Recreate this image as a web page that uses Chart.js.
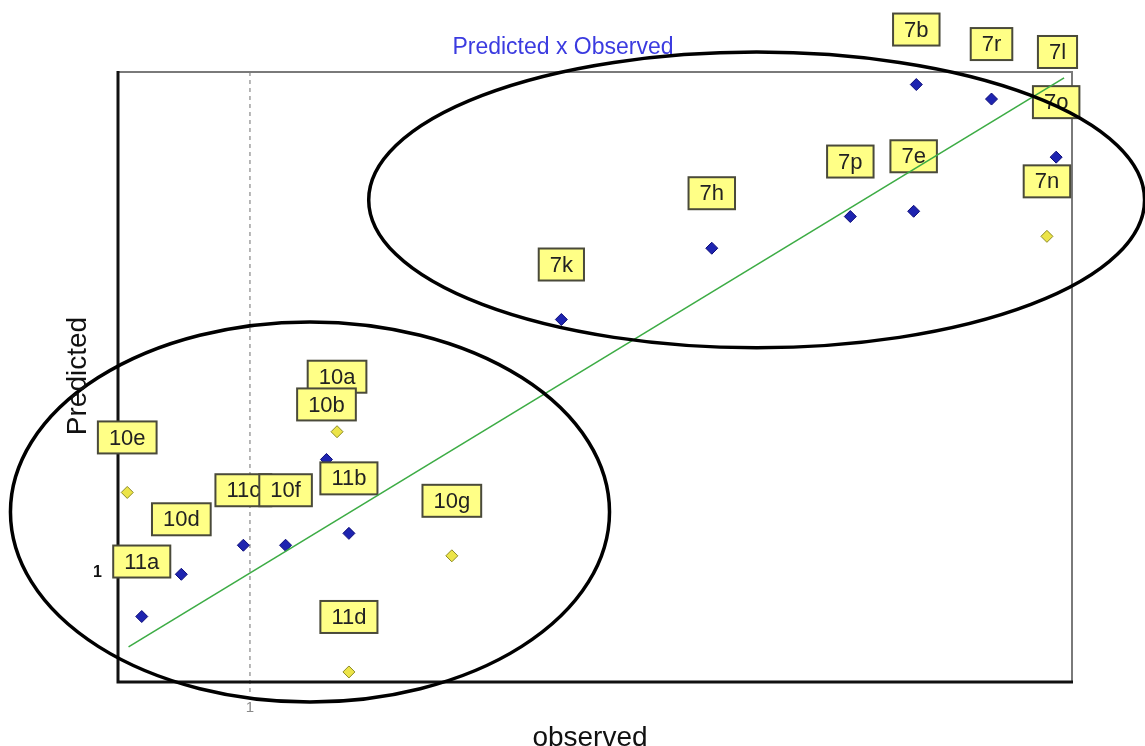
<!DOCTYPE html>
<html><head><meta charset="utf-8">
<script src="https://cdn.jsdelivr.net/npm/chart.js@4.4.1/dist/chart.umd.min.js"></script>
<style>html,body{margin:0;padding:0;background:#fff}#wrap{width:1145px;height:746px}</style>
</head><body><div id="wrap"><canvas id="c" width="1145" height="746"></canvas></div>
<script>
// ---- data ----
const blueNames = ['11a','10d','11c','10f','11b','10b','7k','7h','7p','7e','7b','7r','7l','7o'];
const blueObs   = [0.18,0.48,0.95,1.27,1.75,1.58,3.36,4.50,5.55,6.03,6.05,6.62,7.12,7.11];
const bluePred  = [0.67,0.99,1.21,1.21,1.30,1.86,2.92,3.46,3.70,3.74,4.70,4.59,4.53,4.15];
const yellowNames = ['10e','10a','10g','11d','7n'];
const yellowObs   = [0.07,1.66,2.53,1.75,7.04];
const yellowPred  = [1.61,2.07,1.13,0.25,3.55];
const fitObs  = [0.08,7.17];
const fitPred = [0.44,4.75];
const xTickValues = [1];
const yTickValues = [1];
const titleText = 'Predicted x Observed';
const xTitle = 'observed';
const yTitle = 'Predicted';

const FONT = "'Liberation Sans', Arial, sans-serif";
const toPts = (xs, ys) => xs.map((x, i) => ({x: x, y: ys[i]}));

const ellipses = [ {cx:1.455, cy:1.462, rx:2.27, ry:1.44}, {cx:4.84, cy:3.826, rx:2.94, ry:1.12} ];

function drawLabel(ctx, text, px, py){
  ctx.save();
  ctx.font = '22px ' + FONT;
  const w = ctx.measureText(text).width + 22, h = 32;
  const cx = px, cy = py - 55;
  ctx.fillStyle = '#ffff86';
  ctx.strokeStyle = '#4a4a3a';
  ctx.lineWidth = 2;
  ctx.fillRect(cx - w/2, cy - h/2, w, h);
  ctx.strokeRect(cx - w/2, cy - h/2, w, h);
  ctx.fillStyle = '#222';
  ctx.textAlign = 'center';
  ctx.textBaseline = 'middle';
  ctx.fillText(text, cx, cy + 1);
  ctx.restore();
}

const deco = {
  id: 'deco',
  beforeDatasetsDraw(chart){
    const {ctx, chartArea: a, scales: {x}} = chart;
    ctx.save();
    ctx.strokeStyle = '#a0a0a0'; ctx.lineWidth = 1.5; ctx.setLineDash([4,4]);
    xTickValues.forEach(v => { const px = x.getPixelForValue(v); ctx.beginPath(); ctx.moveTo(px, a.top); ctx.lineTo(px, a.bottom + 14); ctx.stroke(); });
    ctx.setLineDash([]);
    ctx.strokeStyle = '#7a7a7a'; ctx.lineWidth = 2;
    ctx.beginPath(); ctx.moveTo(a.left, a.top); ctx.lineTo(a.right, a.top); ctx.lineTo(a.right, a.bottom); ctx.stroke();
    ctx.strokeStyle = '#111'; ctx.lineWidth = 3;
    ctx.beginPath(); ctx.moveTo(a.left, a.top - 1); ctx.lineTo(a.left, a.bottom); ctx.lineTo(a.right + 1, a.bottom); ctx.stroke();
    ctx.restore();
  },
  afterDatasetDraw(chart, args){
    if (args.index !== 1) return;
    const ctx = chart.ctx;
    const my = chart.getDatasetMeta(2), mb = chart.getDatasetMeta(1);
    yellowNames.forEach((n, i) => drawLabel(ctx, n, my.data[i].x, my.data[i].y));
    blueNames.forEach((n, i) => drawLabel(ctx, n, mb.data[i].x, mb.data[i].y));
  },
  afterDraw(chart){
    const {ctx, scales: {x, y}} = chart;
    ctx.save();
    ctx.strokeStyle = '#000'; ctx.lineWidth = 3.5;
    ellipses.forEach(e => {
      const cx = x.getPixelForValue(e.cx), cy = y.getPixelForValue(e.cy);
      const rx = Math.abs(x.getPixelForValue(e.cx + e.rx) - cx), ry = Math.abs(y.getPixelForValue(e.cy + e.ry) - cy);
      ctx.beginPath(); ctx.ellipse(cx, cy, rx, ry, 0, 0, Math.PI*2); ctx.stroke();
    });
    ctx.fillStyle = '#3b3be0'; ctx.font = '23px ' + FONT; ctx.textAlign = 'center'; ctx.textBaseline = 'alphabetic';
    ctx.fillText(titleText, 563, 54);
    ctx.fillStyle = '#111'; ctx.font = '28px ' + FONT;
    ctx.fillText(xTitle, 590, 746);
    ctx.translate(86, 376); ctx.rotate(-Math.PI/2);
    ctx.fillText(yTitle, 0, 0);
    ctx.restore();
  }
};

new Chart(document.getElementById('c'), {
  data: {
    datasets: [
      { type: 'line', data: toPts(fitObs, fitPred), borderColor: '#3dac45', borderWidth: 1.6, pointRadius: 0, fill: false, order: 0 },
      { type: 'scatter', data: toPts(blueObs, bluePred), pointStyle: 'rectRot', radius: 6, backgroundColor: '#1e24b0', borderColor: '#0c0c78', borderWidth: 1, order: 1 },
      { type: 'scatter', data: toPts(yellowObs, yellowPred), pointStyle: 'rectRot', radius: 6, backgroundColor: '#ece448', borderColor: '#8c8a24', borderWidth: 1, order: 2 }
    ]
  },
  options: {
    responsive: false, animation: false, devicePixelRatio: 1,
    layout: { padding: { top: 72, right: 73, left: 0, bottom: 0 } },
    plugins: { legend: { display: false }, tooltip: { enabled: false }, title: { display: false } },
    scales: {
      x: {
        type: 'linear', min: 0, max: 7.23,
        afterFit: s => { s.height = 64; },
        afterBuildTicks: s => { s.ticks = xTickValues.map(v => ({value: v})); },
        grid: { display: false, drawTicks: false }, border: { display: false },
        ticks: { padding: 17, color: '#888', font: { size: 15, family: FONT }, callback: v => String(v) }
      },
      y: {
        type: 'linear', min: 0.174, max: 4.795,
        afterFit: s => { s.width = 118; },
        afterBuildTicks: s => { s.ticks = yTickValues.map(v => ({value: v})); },
        grid: { display: false, drawTicks: false }, border: { display: false },
        ticks: { padding: 16, color: '#111', font: { size: 16, weight: 'bold', family: FONT }, callback: v => String(v) }
      }
    }
  },
  plugins: [deco]
});
</script></body></html>
